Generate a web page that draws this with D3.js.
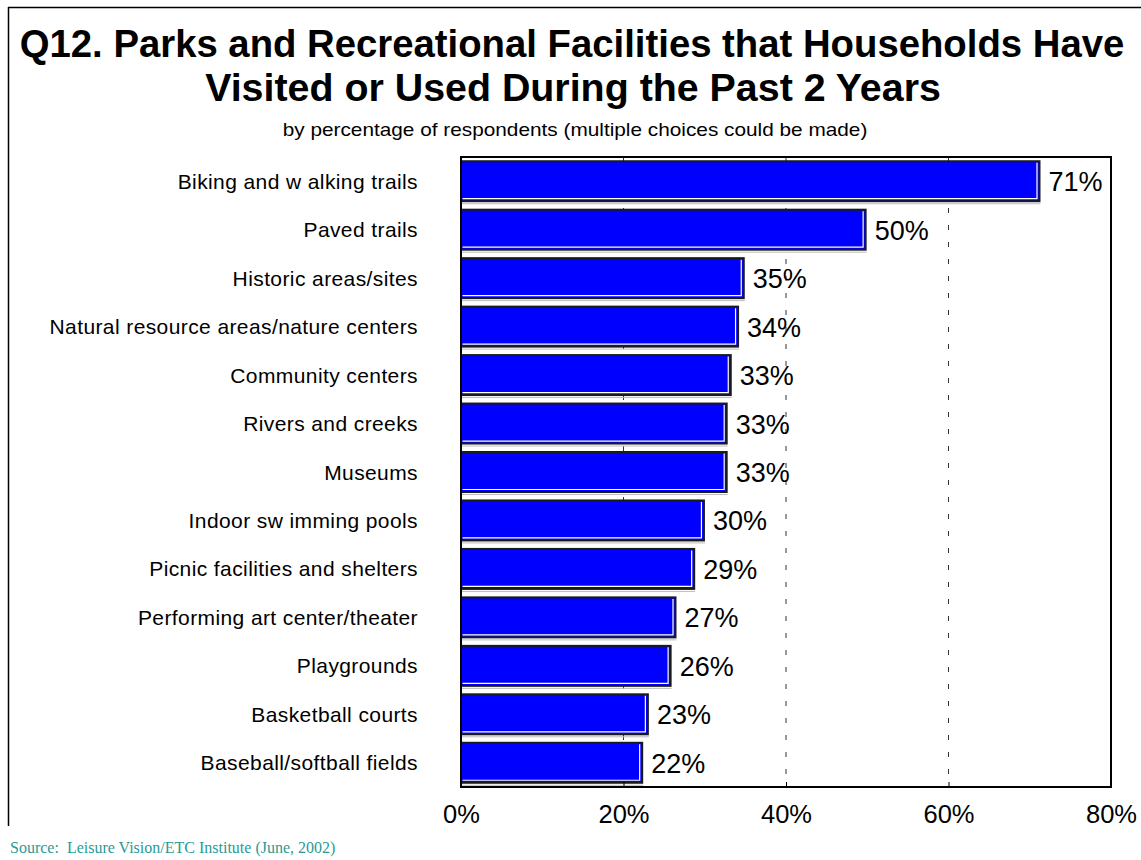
<!DOCTYPE html>
<html><head><meta charset="utf-8">
<script src="https://cdn.jsdelivr.net/npm/d3@7"></script>
<style>body{margin:0;background:#fff;}svg{display:block;}</style>
</head><body>
<script>
const categories = ["Biking and w alking trails","Paved trails","Historic areas/sites","Natural resource areas/nature centers","Community centers","Rivers and creeks","Museums","Indoor sw imming pools","Picnic facilities and shelters","Performing art center/theater","Playgrounds","Basketball courts","Baseball/softball fields"];
const values = [71.2,49.8,34.8,34.1,33.2,32.7,32.7,29.9,28.7,26.4,25.8,23.0,22.3];
const valueLabels = ["71%","50%","35%","34%","33%","33%","33%","30%","29%","27%","26%","23%","22%"];
const tickValues = [0,20,40,60,80];
const gridValues = [20,40,60];
const titleLines = ["Q12. Parks and Recreational Facilities that Households Have","Visited or Used During the Past 2 Years"];
const subtitle = "by percentage of respondents (multiple choices could be made)";
const source = "Source:  Leisure Vision/ETC Institute (June, 2002)";

const W=1141,H=860;
const svg=d3.select("body").append("svg").attr("width",W).attr("height",H);
svg.append("line").attr("x1",8).attr("x2",W).attr("y1",7.5).attr("y2",7.5).attr("stroke","#000").attr("stroke-width",1.5);
svg.append("line").attr("x1",8.5).attr("x2",8.5).attr("y1",7).attr("y2",826).attr("stroke","#000").attr("stroke-width",1.5);

const SANS="Liberation Sans, Arial, sans-serif";
// fitted text: scales horizontally to target width, centred at cx
function fitted(txt,cx,baseY,size,weight,targetW){
  const g=svg.append("g");
  const t=g.append("text").attr("x",0).attr("y",0).attr("text-anchor","middle")
   .attr("font-family",SANS).attr("font-weight",weight).attr("font-size",size).text(txt);
  const w=t.node().getComputedTextLength();
  g.attr("transform",`translate(${cx},${baseY}) scale(${targetW/w},1)`);
}
fitted(titleLines[0],572,57,39,"bold",1105);
fitted(titleLines[1],573,101,39,"bold",736);
fitted(subtitle,575,136,18,"normal",585);

const L=461,R=1111,T=157,B=787;
const x=d3.scaleLinear().domain([0,80]).range([L,R]);
const y=d3.scaleBand().domain(categories).range([T,B]).paddingInner(0.175).paddingOuter(0.0875);

svg.append("g").selectAll("line").data(gridValues).join("line")
 .attr("x1",d=>x(d)).attr("x2",d=>x(d)).attr("y1",T).attr("y2",B)
 .attr("stroke","#333").attr("stroke-width",1).attr("stroke-dasharray","5,12");

const bars=svg.append("g");
categories.forEach((c,i)=>{
  const y0=y(c), h=y.bandwidth(), x1=x(values[i]);
  bars.append("rect").attr("x",L).attr("y",y0).attr("width",x1-L).attr("height",h)
   .attr("fill","#0000FF").attr("stroke","#1a1a1a").attr("stroke-width",2);
  bars.append("path").attr("d",`M${L+1.5},${y0+h-2.5}H${x1-2.5}V${y0+1.5}`)
   .attr("fill","none").attr("stroke","#fff").attr("stroke-width",1.2);
  bars.append("line").attr("x1",L+1).attr("x2",x1+1).attr("y1",y0+h+2.5).attr("y2",y0+h+2.5)
   .attr("stroke","#bbb").attr("stroke-width",1);
});

svg.append("rect").attr("x",L).attr("y",T).attr("width",R-L).attr("height",B-T)
 .attr("fill","none").attr("stroke","#000").attr("stroke-width",2);

svg.append("g").selectAll("text").data(categories).join("text")
 .attr("x",(d,i)=>x(values[i])+9).attr("y",d=>y(d)+y.bandwidth()/2+10)
 .attr("font-family",SANS).attr("font-size",27).attr("fill","#000")
 .text((d,i)=>valueLabels[i]);

svg.append("g").selectAll("text").data(categories).join("text")
 .attr("x",418).attr("y",d=>y(d)+y.bandwidth()/2+7.5).attr("text-anchor","end")
 .attr("font-family",SANS).attr("font-size",21).attr("letter-spacing","0.4px").attr("fill","#000")
 .text(d=>d);

const ax=svg.append("g").attr("transform",`translate(0,${B})`)
 .call(d3.axisBottom(x).tickValues(tickValues).tickFormat(d=>d+"%").tickSize(-5).tickPadding(18));
ax.select(".domain").remove();
ax.selectAll(".tick line").attr("stroke","#000");
ax.selectAll("text").attr("font-family",SANS).attr("font-size",25.5).attr("fill","#000");

svg.append("text").attr("x",10).attr("y",853)
 .attr("font-family","Liberation Serif, Times New Roman, serif").attr("font-size",16).attr("fill","#2a9a96")
 .style("white-space","pre").text(source);
</script>
</body></html>
